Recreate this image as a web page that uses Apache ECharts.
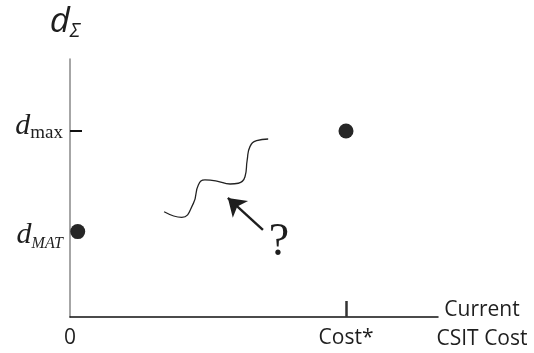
<!DOCTYPE html>
<html>
<head>
<meta charset="utf-8">
<script src="https://cdn.jsdelivr.net/npm/echarts@6/dist/echarts.min.js"></script>
<style>
  html, body { margin: 0; padding: 0; background: #fff; }
  #chart { width: 534px; height: 353px; }
</style>
</head>
<body>
<div id="chart"></div>
<script>
// Scale: cost in units of Cost*, distortion in units of d_max
const costStar = 1;
const dMax = 1;
const dMAT = 0.459;
const xMax = 4 / 3;
const yMax = 1.387;

// Tick and label positions
const xLabelValues = [0, costStar];
const xLabelTexts = ['0', 'Cost*'];
const xTickValues = [costStar];
const yLabelValues = [dMAT, dMax];
const yTickValues = [dMax];

// Known endpoints: (0, d_MAT) and (Cost*, d_max)
const pointX = [0.028, costStar];
const pointY = [dMAT, dMax];

// Unknown trade-off curve between them (sketch)
const curveX = [0.341, 0.405, 0.447, 0.465, 0.489, 0.532, 0.580, 0.610, 0.634, 0.642, 0.652, 0.676, 0.718];
const curveY = [0.566, 0.536, 0.611, 0.710, 0.737, 0.731, 0.715, 0.719, 0.754, 0.844, 0.916, 0.948, 0.957];

// Arrow pointing at the curve, and the question mark at its tail
const arrowFrom = [0.699, 0.468];
const arrowTo = [0.572, 0.640];
const questionPos = [0.757, 0.398];
const questionText = '?';

const chart = echarts.init(document.getElementById('chart'), null, { renderer: 'canvas' });

const sans = '"Open Sans", Lato, sans-serif';
const serif = '"Liberation Serif", "DejaVu Serif", serif';
const ink = '#1e1e1e';

chart.setOption({
  animation: false,
  backgroundColor: '#ffffff',
  grid: { left: 70, right: 96, top: 59, bottom: 36, containLabel: false, outerBoundsMode: 'none' },
  xAxis: {
    type: 'value',
    min: 0,
    max: xMax,
    name: '{a|Current}\n{b|CSIT Cost}',
    nameLocation: 'end',
    nameGap: 44,
    nameMoveOverlap: false,
    nameTextStyle: {
      align: 'center',
      verticalAlign: 'middle',
      rich: {
        a: { fontFamily: sans, fontSize: 21, color: ink, lineHeight: 29, padding: [16, 0, 0, 0] },
        b: { fontFamily: sans, fontSize: 21, color: ink, lineHeight: 29, padding: [16, 0, 0, 0] }
      }
    },
    axisLine: { show: true, lineStyle: { color: '#111', width: 1.5 } },
    axisTick: {
      show: true, inside: true, length: 16, customValues: xTickValues,
      lineStyle: { color: '#333', width: 2.5 }
    },
    axisLabel: {
      show: true, customValues: xLabelValues, margin: 11,
      fontFamily: sans, fontSize: 21, color: ink,
      formatter: v => xLabelTexts[xLabelValues.indexOf(v)]
    },
    splitLine: { show: false }
  },
  yAxis: {
    type: 'value',
    min: 0,
    max: yMax,
    name: '{d|d}{s|Σ}',
    nameLocation: 'end',
    nameGap: 18,
    nameMoveOverlap: false,
    nameTextStyle: {
      padding: [0, 10, 0, 0],
      rich: {
        d: { fontFamily: sans, fontStyle: 'italic', fontSize: 35, color: ink },
        s: { fontFamily: sans, fontStyle: 'italic', fontSize: 20, color: ink, padding: [18, 0, 0, 0] }
      }
    },
    axisLine: { show: true, lineStyle: { color: '#888', width: 1.5 } },
    axisTick: {
      show: true, inside: true, length: 12, customValues: yTickValues,
      lineStyle: { color: '#111', width: 2 }
    },
    axisLabel: {
      show: true, customValues: yLabelValues, margin: 7,
      formatter: v => v === dMax ? '{d|d}{sub|max}' : '{dm|d}{subi|MAT}',
      rich: {
        d: { fontFamily: serif, fontStyle: 'italic', fontSize: 30, color: ink, padding: [0, 0, 10, 0] },
        sub: { fontFamily: serif, fontSize: 19, color: ink, padding: [4, 0, 0, 0] },
        dm: { fontFamily: serif, fontStyle: 'italic', fontSize: 30, color: ink, padding: [6, 0, 0, 0] },
        subi: { fontFamily: serif, fontStyle: 'italic', fontSize: 16, color: ink, padding: [24, 0, 0, 0] }
      }
    },
    splitLine: { show: false }
  },
  series: [
    {
      type: 'line',
      data: curveX.map((x, i) => [x, curveY[i]]),
      smooth: 0.5,
      showSymbol: false,
      lineStyle: { color: '#222', width: 1.3 },
      z: 2
    },
    {
      type: 'lines',
      coordinateSystem: 'cartesian2d',
      data: [{ coords: [arrowFrom, arrowTo] }],
      symbol: ['none', 'arrow'],
      symbolSize: 17,
      lineStyle: { color: '#1e1e1e', width: 2.4, opacity: 1 },
      z: 3
    },
    {
      type: 'scatter',
      data: pointX.map((x, i) => [x, pointY[i]]),
      symbol: 'circle',
      symbolSize: 15,
      itemStyle: { color: '#262626', opacity: 1 },
      z: 4
    },
    {
      type: 'scatter',
      data: [questionPos],
      symbolSize: 0,
      itemStyle: { opacity: 1 },
      label: {
        show: true, position: 'inside', formatter: questionText,
        fontFamily: serif, fontSize: 46, color: ink
      },
      z: 4
    }
  ]
});
</script>
</body>
</html>
